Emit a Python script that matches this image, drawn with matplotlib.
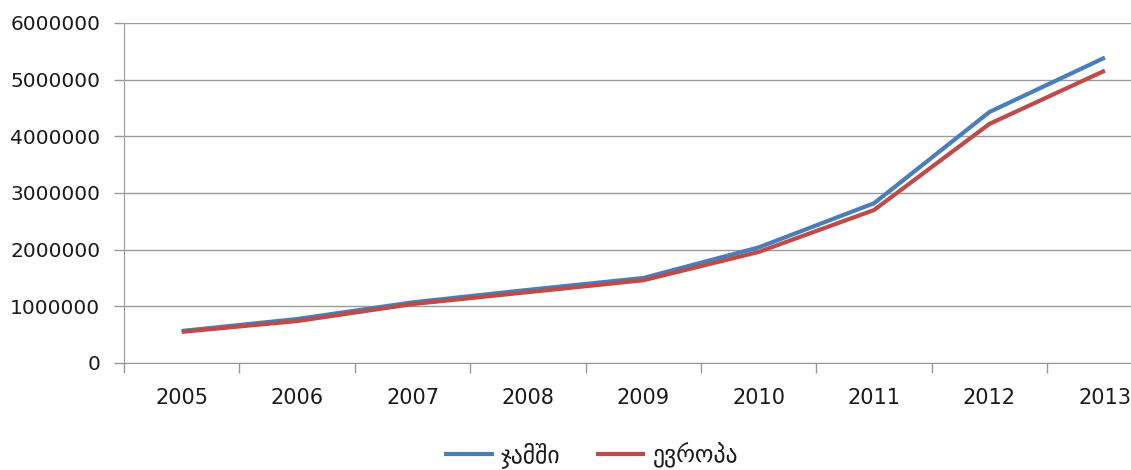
import matplotlib
matplotlib.use("Agg")
import matplotlib.pyplot as plt

years = ["2005", "2006", "2007", "2008", "2009", "2010", "2011", "2012", "2013"]
total = [565000, 776000, 1070000, 1290000, 1500000, 2040000, 2820000, 4430000, 5390000]
europe = [550000, 740000, 1040000, 1250000, 1460000, 1960000, 2700000, 4220000, 5160000]
series_names = ["ჯამში", "ევროპა"]
yticks = [0, 1000000, 2000000, 3000000, 4000000, 5000000, 6000000]

plt.rcParams['font.family'] = ['DejaVu Sans']

fig = plt.figure(figsize=(11.31, 4.70), dpi=100)
ax = fig.add_axes([124/1131, 1-363/470, (9*115.4)/1131, (363-23)/470])

x = list(range(len(years)))
ax.plot(x, total, color="#4a7ebb", lw=3.0, solid_capstyle="butt", label=series_names[0])
ax.plot(x, europe, color="#be4b48", lw=3.0, solid_capstyle="butt", label=series_names[1])

ax.set_xlim(-0.5, len(years) - 0.5)
ax.set_ylim(0, 6000000)
ax.set_yticks(yticks)
ax.set_yticklabels([str(v) for v in yticks])
ax.set_xticks(x)
ax.set_xticklabels(years)
ax.set_xticks([i - 0.5 for i in range(len(years) + 1)], minor=True)
ax.tick_params(axis="x", which="major", length=0, pad=18, labelsize=15, colors="#1a1a1a")
ax.tick_params(axis="x", which="minor", length=7, color="#9a9a9a", width=1)
ax.tick_params(axis="y", length=7, color="#9a9a9a", width=1, labelsize=14.5, pad=10, labelcolor="#1a1a1a")
ax.grid(axis="y", color="#9a9a9a", lw=1)
ax.set_axisbelow(True)
for s in ["top", "right"]:
    ax.spines[s].set_visible(False)
ax.spines["left"].set_color("#9a9a9a")
ax.spines["bottom"].set_color("#9a9a9a")

fig.legend(loc="center", bbox_to_anchor=(591/1131, 1-455/470), ncol=2, frameon=False,
           fontsize=17, handlelength=2.1, columnspacing=1.5, handletextpad=0.3,
           labelcolor="#1a1a1a")

fig.savefig("out.png", dpi=100)
